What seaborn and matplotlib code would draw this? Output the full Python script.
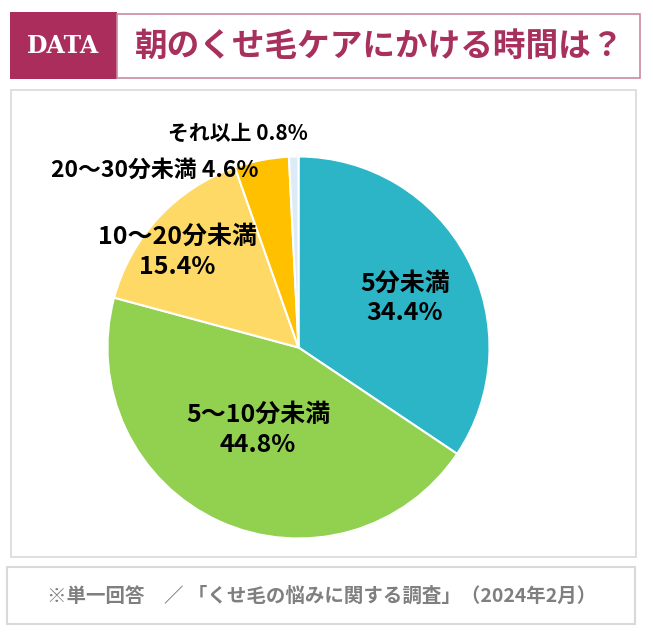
import matplotlib
matplotlib.use('Agg')
import matplotlib.pyplot as plt
from matplotlib.patches import Rectangle
import seaborn as sns

# data
categories = ['5分未満', '5〜10分未満', '10〜20分未満', '20〜30分未満', 'それ以上']
shares = [34.4, 44.8, 15.4, 4.6, 0.8]
colors = ['#2bb5c7', '#92d050', '#ffd966', '#ffc000', '#ddebf7']
title = '朝のくせ毛ケアにかける時間は？'
footer = '※単一回答　／ 「くせ毛の悩みに関する調査」（2024年2月）'

sns.set_theme(style='white')
plt.rcParams['font.family'] = ['Noto Sans CJK JP', 'DejaVu Sans']

W, H = 653, 635
fig = plt.figure(figsize=(W / 100, H / 100), dpi=100)
fig.patch.set_facecolor('white')


def box(x0, y0, x1, y1, **kw):
    # pixel coords from the top-left -> figure fraction
    fig.add_artist(Rectangle((x0 / W, 1 - y1 / H), (x1 - x0) / W, (y1 - y0) / H,
                             transform=fig.transFigure, **kw))


# header
box(10, 12, 117, 79, facecolor='#ab2d5b', edgecolor='none')
box(117, 14, 640, 78, facecolor='white', edgecolor='#c98aa2', linewidth=1.2)
fig.text(63 / W, 1 - 46 / H, 'DATA', color='white', fontsize=17, fontweight='bold',
         family=['DejaVu Serif'], ha='center', va='center')
fig.text(380 / W, 1 - 46 / H, title, color='#a8305c', fontsize=23.5, fontweight='bold',
         ha='center', va='center')

# chart frame and footer frame
box(11, 90, 636, 557, facecolor='none', edgecolor='#d9d9d9', linewidth=1.2)
box(7, 567, 635, 624, facecolor='none', edgecolor='#d9d9d9', linewidth=1.5)
fig.text(322 / W, 1 - 596 / H, footer, color='#7f7f7f', fontsize=14, fontweight='bold',
         ha='center', va='center')

# pie
cx, cy, r = 298.5, 347.5, 191
ax = fig.add_axes([(cx - r) / W, 1 - (cy + r) / H, 2 * r / W, 2 * r / H])
ax.pie(shares, colors=colors, startangle=90, counterclock=False, radius=1,
       wedgeprops=dict(edgecolor='white', linewidth=1.5))
ax.set_xlim(-1, 1)
ax.set_ylim(-1, 1)
ax.set_aspect('equal')
ax.axis('off')

label_pos = [(0.557, 0.257), (-0.212, -0.432), (-0.636, 0.500), (-0.751, 0.929), (-0.317, 1.123)]
label_text = [
    f'{categories[0]}\n{shares[0]}%',
    f'{categories[1]}\n{shares[1]}%',
    f'{categories[2]}\n{shares[2]}%',
    f'{categories[3]} {shares[3]}%',
    f'{categories[4]} {shares[4]}%',
]
label_size = [18, 18, 18, 16.5, 15]
for (x, y), t, s in zip(label_pos, label_text, label_size):
    ax.text(x, y, t, ha='center', va='center', fontsize=s, fontweight='bold',
            color='black', linespacing=1.3)

fig.savefig('out.png', dpi=100, facecolor='white')
